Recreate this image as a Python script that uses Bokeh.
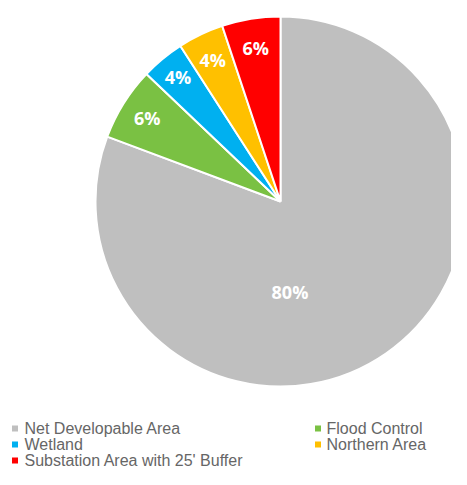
import math
from bokeh.plotting import figure
from bokeh.models import Range1d, ColumnDataSource
from bokeh.embed import file_html
from bokeh.resources import INLINE
from bokeh.core.properties import value

# ---- data ----
categories = ["Net Developable Area", "Flood Control", "Wetland",
              "Northern Area", "Substation Area with 25' Buffer"]
shares = [80.7, 6.4, 3.8, 4.0, 5.1]
pct_labels = ["80%", "6%", "4%", "4%", "6%"]
colors = ["#BFBFBF", "#7AC143", "#00B0F0", "#FFC000", "#FF0000"]

# ---- layout / style ----
W, H = 451, 469
TOP = 485
CX, CY, R = 280, TOP - 201, 185
label_r = [0.49, 0.85, 0.87, 0.85, 0.84]
label_ang_override = {0: -84.0}  # degrees from +x for the big slice label

p = figure(width=W, height=H, output_backend="svg", toolbar_location=None,
           x_range=Range1d(0, W), y_range=Range1d(TOP - H, TOP),
           min_border=0, outline_line_color=None)
p.axis.visible = False
p.grid.visible = False
p.background_fill_color = "white"
p.border_fill_color = "white"

# slices drawn counter-clockwise from 12 o'clock, starting with the last category
starts, ends = [0.0] * len(shares), [0.0] * len(shares)
cum = 0.0
total = sum(shares)
for i in reversed(range(len(shares))):
    a0 = math.pi / 2 + 2 * math.pi * cum / total
    cum += shares[i]
    a1 = math.pi / 2 + 2 * math.pi * cum / total
    starts[i], ends[i] = a0, a1

src = ColumnDataSource(dict(start=starts, end=ends, color=colors,
                            x=[CX] * len(shares), y=[CY] * len(shares)))
p.wedge(x="x", y="y", radius=R, start_angle="start", end_angle="end",
        direction="anticlock", fill_color="color", line_color="white",
        line_width=2, source=src)

lx, ly = [], []
for i in range(len(shares)):
    mid = (starts[i] + ends[i]) / 2
    if i in label_ang_override:
        mid = math.radians(label_ang_override[i])
    lx.append(CX + R * label_r[i] * math.cos(mid))
    ly.append(CY + R * label_r[i] * math.sin(mid))
p.text(x=lx, y=ly, text=pct_labels, text_color="white",
       text_font=value("Open Sans"), text_font_style="bold",
       text_font_size="18px", text_align="center", text_baseline="middle")

# ---- legend (manual, two columns) ----
col_sq = [14.5, 317.5]
col_tx = [24, 326]
row_y = [428, 444, 460]
sx, sy, tx, ty = [], [], [], []
for i, c in enumerate(categories):
    col, row = i % 2, i // 2
    sx.append(col_sq[col]); sy.append(TOP - row_y[row])
    tx.append(col_tx[col]); ty.append(TOP - row_y[row])
p.scatter(x=sx, y=sy, marker="square", size=6, fill_color=colors,
          line_color=None)
p.text(x=tx, y=ty, text=categories, text_color="#666666",
       text_font=value("Liberation Sans"), text_font_size="16px",
       text_align="left", text_baseline="middle")

open("out.html", "w").write(file_html(p, INLINE))
